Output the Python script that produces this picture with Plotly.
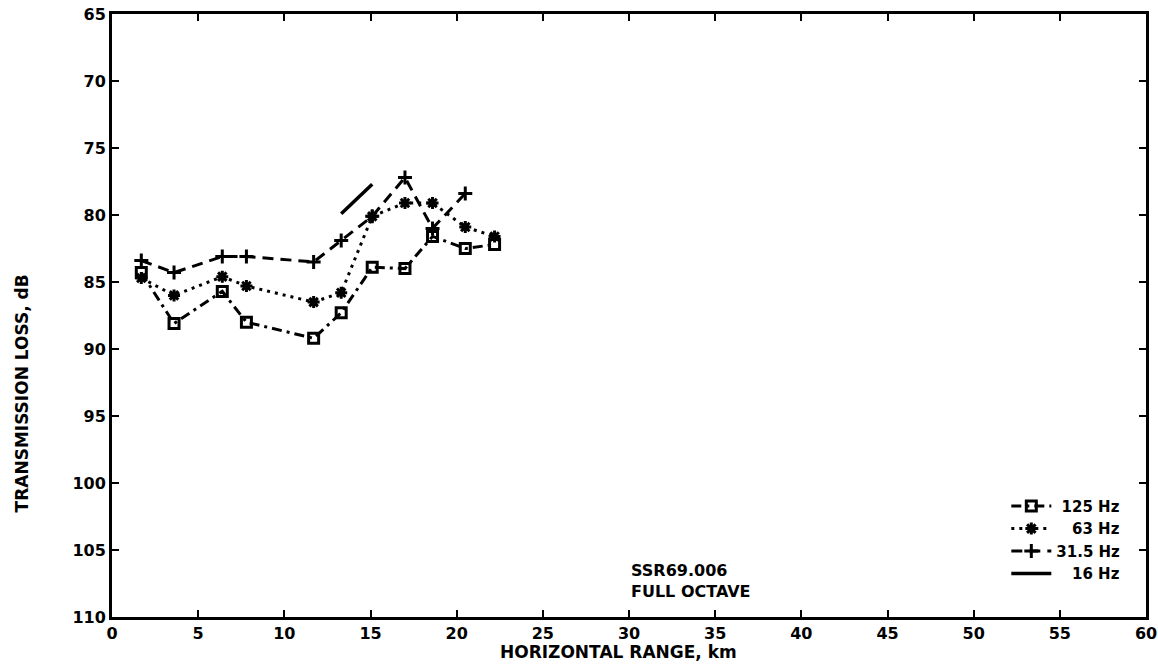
import plotly.graph_objects as go

# Horizontal range of each measurement station (km)
range_km = [1.7, 3.6, 6.4, 7.8, 11.7, 13.3, 15.1, 17.0, 18.6, 20.5, 22.2]
range_31 = [1.7, 3.6, 6.4, 7.8, 11.7, 13.3, 15.1, 17.0, 18.6, 20.5]
range_16 = [13.3, 15.1]

# Full-octave transmission loss (dB)
tl_125 = [84.3, 88.1, 85.7, 88.0, 89.2, 87.3, 83.9, 84.0, 81.6, 82.5, 82.2]
tl_63 = [84.7, 86.0, 84.6, 85.3, 86.5, 85.8, 80.1, 79.1, 79.1, 80.9, 81.6]
tl_31 = [83.4, 84.3, 83.1, 83.1, 83.5, 81.9, 80.1, 77.2, 81.0, 78.4]
tl_16 = [79.9, 77.7]

series_names = ["125 Hz", "63 Hz", "31.5 Hz", "16 Hz"]
x_ticks = list(range(0, 61, 5))
y_ticks = list(range(65, 111, 5))

FONT = "DejaVu Sans"
INK = "black"
NB = "\u00a0"

fig = go.Figure()

fig.add_trace(go.Scatter(
    x=range_km, y=tl_125, mode="lines+markers", name=NB + series_names[0],
    line=dict(color=INK, width=3, dash="10px,5px,3px,5px"),
    marker=dict(symbol="square-open", size=10, color=INK, line=dict(width=3, color=INK)),
))
fig.add_trace(go.Scatter(
    x=range_km, y=tl_63, mode="lines+markers", name=NB * 3 + series_names[1],
    line=dict(color=INK, width=3, dash="3px,5px"),
    marker=dict(symbol="asterisk-open", size=10, color=INK, line=dict(width=3, color=INK)),
))
fig.add_trace(go.Scatter(
    x=range_31, y=tl_31, mode="lines+markers", name=series_names[2],
    line=dict(color=INK, width=3, dash="11px,7px"),
    marker=dict(symbol="cross-thin-open", size=10, color=INK, line=dict(width=3, color=INK)),
))
fig.add_trace(go.Scatter(
    x=range_16, y=tl_16, mode="lines", name=NB * 3 + series_names[3],
    line=dict(color=INK, width=3.5),
))

axis_common = dict(
    showline=True, linecolor=INK, linewidth=3, mirror="ticks",
    ticks="inside", ticklen=7, tickwidth=2, tickcolor=INK,
    showgrid=False, zeroline=False, automargin=False,
    ticklabeloverflow="allow",
    tickfont=dict(family=FONT, size=16, color=INK, weight="bold"),
)

fig.update_xaxes(range=[0, 60], tickvals=x_ticks, **axis_common)
fig.update_yaxes(range=[110, 65], tickvals=y_ticks, **axis_common)

fig.add_annotation(
    text="HORIZONTAL RANGE, km", xref="paper", yref="paper",
    x=0.49, y=-0.058, xanchor="center", yanchor="middle", showarrow=False,
    font=dict(family=FONT, size=17, color=INK, weight="bold"),
)
fig.add_annotation(
    text="TRANSMISSION LOSS, dB", xref="paper", yref="paper",
    x=-0.0875, y=0.37, xanchor="center", yanchor="middle", textangle=-90,
    showarrow=False, font=dict(family=FONT, size=17, color=INK, weight="bold"),
)
fig.add_annotation(
    text="SSR69.006<br>FULL OCTAVE", xref="paper", yref="paper",
    x=0.5, y=0.06, xanchor="left", yanchor="middle", align="left",
    showarrow=False, font=dict(family=FONT, size=16, color=INK, weight="bold"),
)

fig.update_layout(
    width=1158, height=670,
    margin=dict(l=112, r=12, t=14, b=53, autoexpand=False),
    paper_bgcolor="white", plot_bgcolor="white",
    showlegend=True,
    legend=dict(
        x=0.98, y=0.045, xanchor="right", yanchor="bottom",
        bgcolor="rgba(0,0,0,0)", borderwidth=0,
        font=dict(family=FONT, size=15, color=INK, weight="bold"),
        itemwidth=40, tracegroupgap=0,
    ),
)

fig.write_html("out.html")
